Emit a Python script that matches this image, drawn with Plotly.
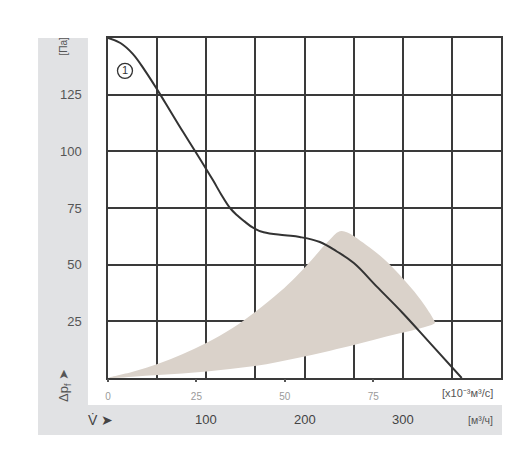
import plotly.graph_objects as go

# ---- data ----
flow_curve = [0, 3.5, 7, 10.5, 14, 17.6, 21.2, 25.4, 29.7, 32, 34.5, 36.5, 38.5, 41, 44, 50, 54.2, 59.9, 64.7, 69.5, 76, 83.3, 91, 100]
dp_curve = [150, 147.8, 143, 135.5, 127, 117.8, 108.6, 98.2, 87.2, 81, 75, 71.8, 69.2, 66.3, 64.3, 63, 62.2, 60, 55.8, 50.7, 40.3, 28.7, 15.5, 0]

area_upper_flow = [0, 7, 14.2, 21, 27.9, 35, 41.5, 48.6, 53, 57.5, 62.7, 66]
area_upper_dp = [0, 2.8, 6.3, 10.5, 15.5, 21.8, 29, 38, 44.5, 52, 61, 64.8]
area_right_flow = [73, 78, 82.5, 88, 91.8, 92.4]
area_right_dp = [58.7, 52.5, 45.4, 35.3, 26.5, 24.3]
area_lower_flow = [91, 82.5, 75, 68.4, 61, 54.2, 48, 41.5, 34.5, 27.9, 21, 14.2, 7, 0]
area_lower_dp = [23.2, 19.7, 16.8, 14.1, 11.4, 9.0, 7.1, 5.3, 4.0, 2.9, 2.0, 1.3, 0.6, 0]

flow_ticks = [0, 25, 50, 75]            # x10^-3 m3/s
mh_grid = [0, 50, 100, 150, 200, 250, 300, 350, 400]   # m3/h grid lines
mh_labels = [100, 200, 300]
dp_grid = [0, 25, 50, 75, 100, 125, 150]
dp_labels = ["", "25", "50", "75", "100", "125", ""]

MH_TO_FLOW = 1000 / 3600.0
x_max = 400 * MH_TO_FLOW

FONT = "Liberation Sans, Arial, sans-serif"
LINE = "#3a3a3a"
FILL = "rgb(218,210,202)"

fig = go.Figure()

area_x = area_upper_flow + area_right_flow + area_lower_flow
area_y = area_upper_dp + area_right_dp + area_lower_dp
fig.add_trace(go.Scatter(x=area_x, y=area_y, mode="lines", fill="toself",
                         fillcolor=FILL, line=dict(width=0, color=FILL, shape="spline", smoothing=1.0),
                         hoverinfo="skip", showlegend=False))

fig.add_trace(go.Scatter(x=flow_curve, y=dp_curve, mode="lines",
                         line=dict(color="#333333", width=2, shape="spline", smoothing=1.1),
                         showlegend=False))

fig.add_trace(go.Scatter(x=[4.8], y=[135.5], mode="markers+text", text=["1"],
                         textposition="middle center",
                         textfont=dict(family=FONT, size=11, color="#333"),
                         marker=dict(symbol="circle-open", size=15, color="#333", line=dict(width=1.3)),
                         showlegend=False, hoverinfo="skip"))

# invisible trace on xaxis2 so it renders
fig.add_trace(go.Scatter(x=[0], y=[0], xaxis="x2", mode="markers",
                         marker=dict(opacity=0), showlegend=False, hoverinfo="skip"))

fig.update_layout(
    width=530, height=469,
    margin=dict(l=108, r=29, t=38, b=91),
    paper_bgcolor="white", plot_bgcolor="white",
    font=dict(family=FONT),
    xaxis=dict(range=[0, x_max], tickvals=[h * MH_TO_FLOW for h in mh_grid],
               showticklabels=False, ticks="", showgrid=True, gridcolor=LINE, gridwidth=1.5,
               zeroline=False, showline=True, linecolor=LINE, linewidth=1.5, mirror=True),
    xaxis2=dict(range=[0, x_max], overlaying="x", side="bottom", anchor="y",
                tickvals=flow_ticks, ticktext=[str(v) for v in flow_ticks],
                ticks="outside", ticklen=3, tickcolor="#555", tickwidth=1.5,
                ticklabelstandoff=6,
                tickfont=dict(size=10, color="#9a9a9a", family=FONT),
                showgrid=False, zeroline=False, showline=False),
    yaxis=dict(range=[0, 150], tickvals=dp_grid, ticktext=dp_labels,
               ticks="", ticklabelstandoff=22,
               tickfont=dict(size=13, color="#555", family=FONT),
               showgrid=True, gridcolor=LINE, gridwidth=1.5, zeroline=False,
               showline=True, linecolor=LINE, linewidth=1.5, mirror=True),
)

GRAY = "#e1e2e4"
fig.add_shape(type="rect", xref="paper", yref="paper", x0=-0.178, x1=-0.051, y0=-0.1676, y1=1.0,
              fillcolor=GRAY, line=dict(width=0), layer="below")
fig.add_shape(type="rect", xref="paper", yref="paper", x0=-0.178, x1=1.0025, y0=-0.1676, y1=-0.0794,
              fillcolor=GRAY, line=dict(width=0), layer="below")

def note(x, y, text, size, color="#555", xref="paper", angle=0):
    fig.add_annotation(x=x, xref=xref, y=y, yref="paper", text=text, textangle=angle,
                       xanchor="center", yanchor="middle", showarrow=False,
                       font=dict(size=size, color=color, family=FONT))

for h in mh_labels:
    note(h * MH_TO_FLOW, -0.1235, str(h), 13, "#444", xref="x")

note(-0.018, -0.1235, "V̇ ➤", 14, "#444")
note(0.948, -0.1235, "[м³/ч]", 10.5)
note(0.914, -0.044, "[x10⁻³м³/с]", 11)
note(-0.1145, 0.975, "[Па]", 10, angle=-90)
note(-0.109, -0.023, "Δp<sub>f</sub> ➤", 13, angle=-90)

fig.write_html("out.html", config={"displayModeBar": False},
               post_script="document.body.style.margin='0';document.body.style.padding='0';")
